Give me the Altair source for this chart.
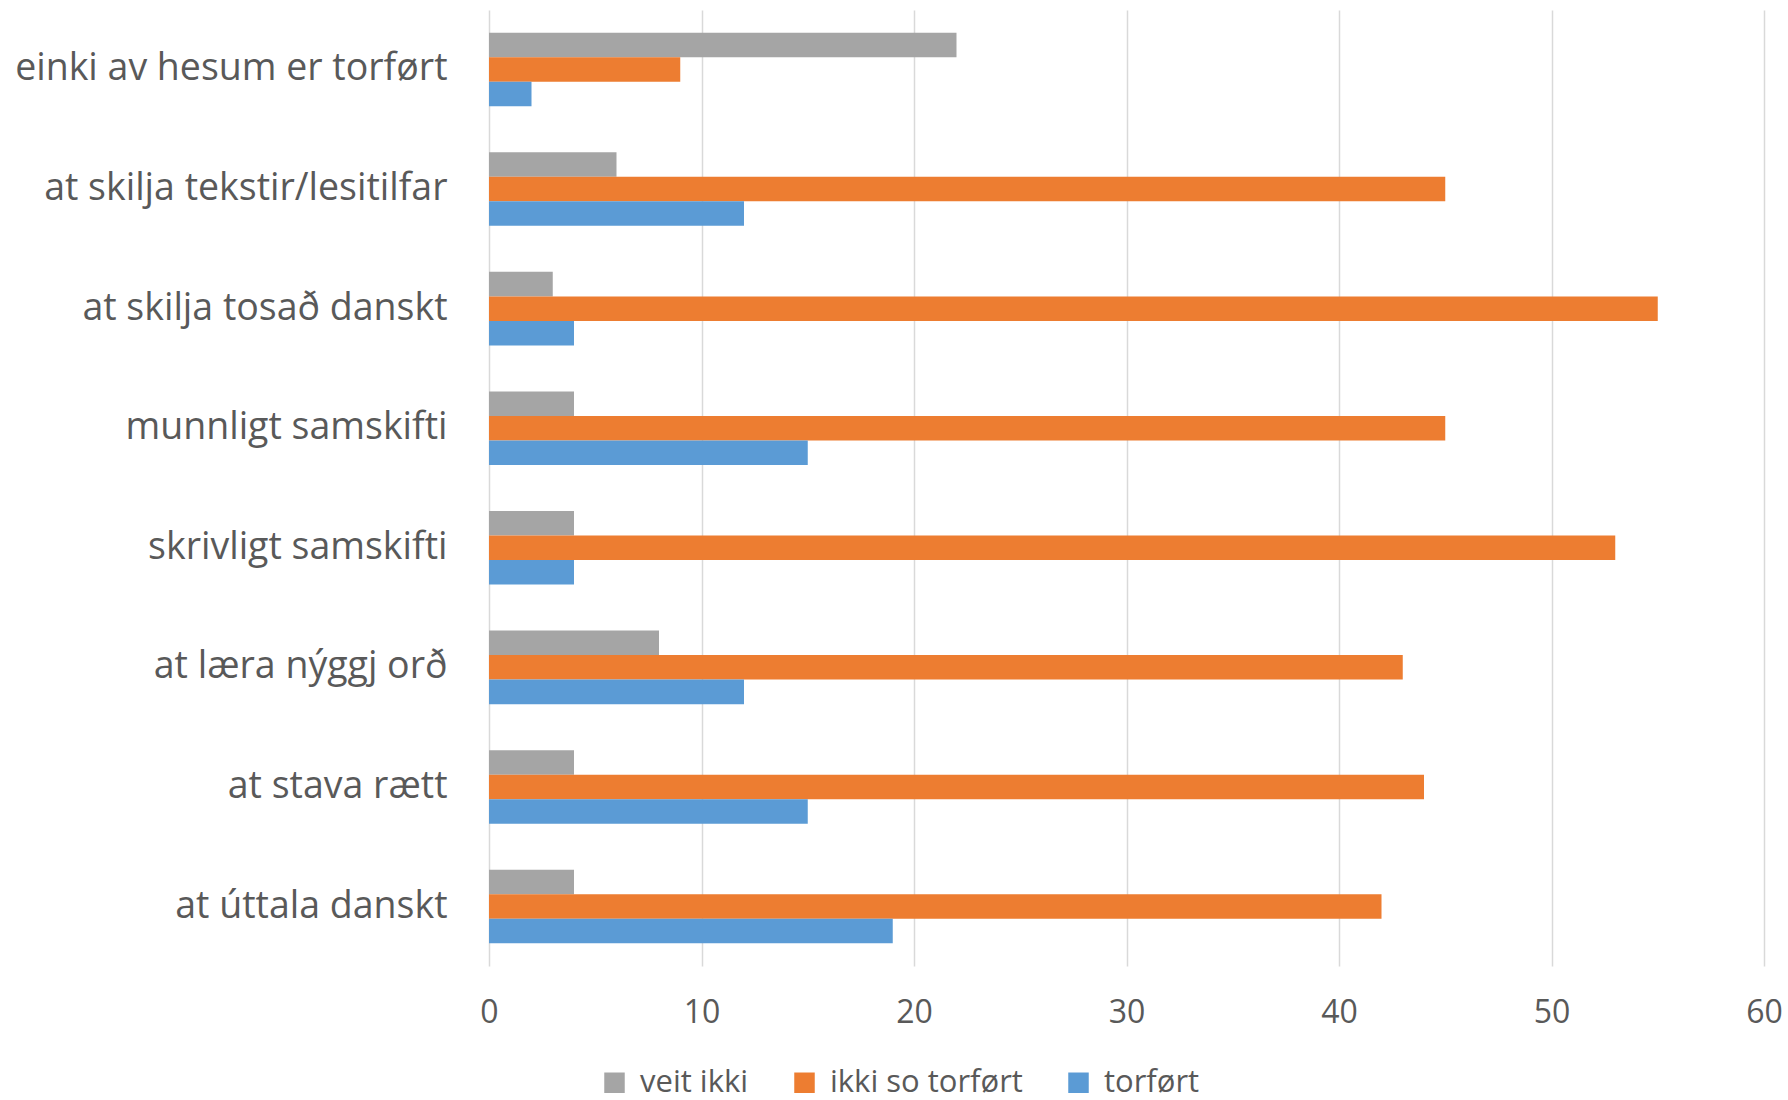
import altair as alt
import pandas as pd

categories = [
    "einki av hesum er torført",
    "at skilja tekstir/lesitilfar",
    "at skilja tosað danskt",
    "munnligt samskifti",
    "skrivligt samskifti",
    "at læra nýggj orð",
    "at stava rætt",
    "at úttala danskt",
]
series = ["veit ikki", "ikki so torført", "torført"]
veit_ikki = [22, 6, 3, 4, 4, 8, 4, 4]
ikki_so_torfort = [9, 45, 55, 45, 53, 43, 44, 42]
torfort = [2, 12, 4, 15, 4, 12, 15, 19]
colors = ["#A5A5A5", "#ED7D31", "#5B9BD5"]
x_ticks = [0, 10, 20, 30, 40, 50, 60]

rows = []
for s, vals in zip(series, [veit_ikki, ikki_so_torfort, torfort]):
    for c, v in zip(categories, vals):
        rows.append({"category": c, "series": s, "value": v})
df = pd.DataFrame(rows)

FONT = "Open Sans"
TXT = "#595959"

chart = alt.Chart(df).mark_bar().encode(
    x=alt.X(
        "value:Q",
        scale=alt.Scale(domain=[0, 60], nice=False),
        axis=alt.Axis(
            values=x_ticks, title=None, grid=True, gridColor="#D9D9D9", gridWidth=1.5,
            domain=False, ticks=False, labelFontSize=32, labelColor=TXT,
            labelFont=FONT, labelPadding=31, labelFlush=False,
        ),
    ),
    y=alt.Y(
        "category:N", sort=categories,
        scale=alt.Scale(paddingInner=0.385, paddingOuter=0.19),
        axis=alt.Axis(
            title=None, ticks=False, domain=False, labelFontSize=37.5,
            labelColor=TXT, labelFont=FONT, labelPadding=42, labelLimit=0,
        ),
    ),
    yOffset=alt.YOffset("series:N", sort=series,
                        scale=alt.Scale(paddingInner=0, paddingOuter=0)),
    color=alt.Color(
        "series:N", sort=series,
        scale=alt.Scale(domain=series, range=colors),
        legend=alt.Legend(
            title=None, orient="none", direction="horizontal",
            legendX=110, legendY=1057, symbolType="square", symbolSize=420,
            symbolStrokeWidth=0, labelFontSize=31, labelColor=TXT,
            labelFont=FONT, labelOffset=10, columnPadding=40, labelLimit=0,
            padding=0,
        ),
    ),
).properties(
    width=1275, height=956,
    padding={"left": 14, "top": 10, "right": 0, "bottom": 0},
).configure_view(stroke=None)

chart.save("out.html", embed_options={"renderer": "svg", "actions": False})
